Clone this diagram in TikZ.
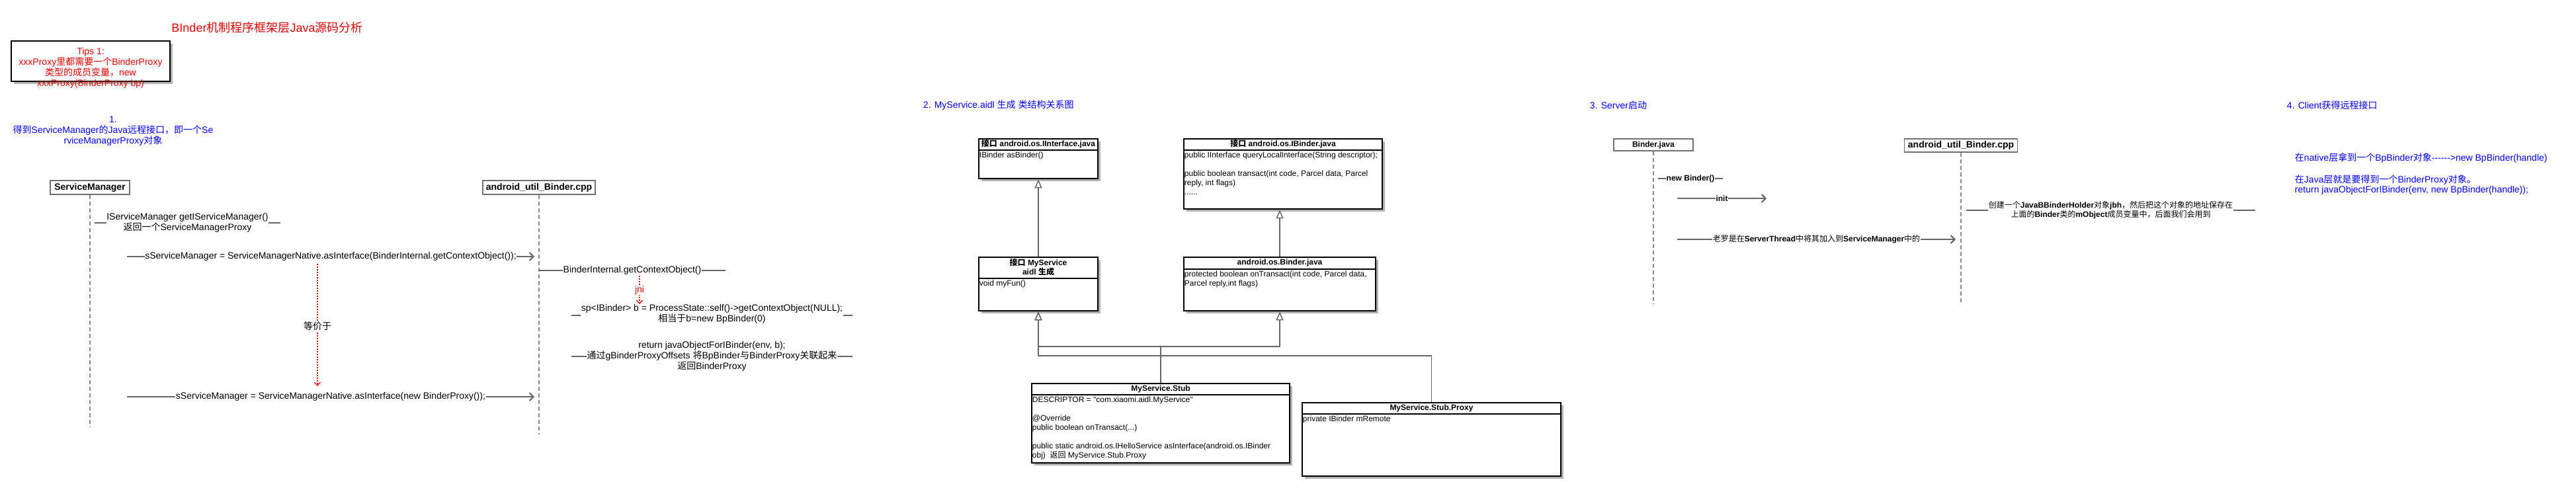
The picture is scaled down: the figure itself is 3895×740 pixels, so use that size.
\documentclass[tikz,border=0pt]{standalone}
\usepackage{fontspec}
\setmainfont{Liberation Sans}[Ligatures=TeXOff]
\newfontfamily\zhfont{Noto Sans CJK SC}
\usetikzlibrary{arrows.meta,shadows}

% switch to the CJK family for Han characters and full-width punctuation
\XeTeXinterchartokenstate=1
\newXeTeXintercharclass\zhclass
\newcount\zhcode
\zhcode="3000
\loop
  \XeTeXcharclass\zhcode=\zhclass
  \ifnum\zhcode<"9FFF \advance\zhcode by 1
\repeat
\zhcode="FF00
\loop
  \XeTeXcharclass\zhcode=\zhclass
  \ifnum\zhcode<"FFEF \advance\zhcode by 1
\repeat
\XeTeXinterchartoks 0 \zhclass = {\begingroup\zhfont}
\XeTeXinterchartoks 4095 \zhclass = {\begingroup\zhfont}
\XeTeXinterchartoks \zhclass 0 = {\endgroup}
\XeTeXinterchartoks \zhclass 4095 = {\endgroup}

\tikzset{
  txt/.style={inner sep=0.75pt, align=center, font=\fontsize{14}{16}\selectfont},
  smalltxt/.style={inner sep=0.75pt, align=center, font=\fontsize{12}{14}\selectfont},
  title/.style={inner sep=0.75pt, font=\fontsize{18}{20}\selectfont, color={rgb, 255:red, 224; green, 0; blue, 0}},
  note/.style={txt, color={rgb, 255:red, 0; green, 0; blue, 255}},
  tipsbox/.style={draw=black, line width=2.5pt, fill=white, general shadow={fill={rgb, 255:red, 178; green, 178; blue, 178}, shadow xshift=4pt, shadow yshift=-4pt}},
  tipstext/.style={txt, color={rgb, 255:red, 224; green, 0; blue, 0}},
  headbox/.style={draw={rgb, 255:red, 112; green, 112; blue, 112}, line width=1.5pt, fill=white, inner sep=2pt, font=\bfseries\fontsize{14}{16}\selectfont},
  lifeline/.style={draw={rgb, 255:red, 136; green, 136; blue, 136}, line width=1.4pt, dash pattern=on 6pt off 4pt},
  msg/.style={draw={rgb, 255:red, 102; green, 102; blue, 102}, line width=2pt},
  call/.style={msg, -{Straight Barb[length=6pt, width=12pt]}},
  lbl/.style={txt, fill=white},
  smalllbl/.style={smalltxt, fill=white},
  redlink/.style={draw={rgb, 255:red, 224; green, 0; blue, 0}, line width=1.2pt, dash pattern=on 2pt off 2pt, -{Straight Barb[length=5pt, width=9pt, line width=1.2pt]}},
  classbox/.style={draw=black, line width=2.5pt, fill=white, inner sep=0pt, general shadow={fill={rgb, 255:red, 178; green, 178; blue, 178}, shadow xshift=4pt, shadow yshift=-4pt}},
  classhead/.style={inner sep=0pt, align=center, font=\bfseries\fontsize{12}{14}\selectfont},
  classbody/.style={inner sep=2pt, align=left, font=\fontsize{12}{14}\selectfont},
  classrule/.style={draw=black, line width=2.5pt},
  inherit/.style={draw={rgb, 255:red, 102; green, 102; blue, 102}, line width=1.5pt, -{Triangle[length=13pt, width=11pt, fill=white, line width=1.5pt]}}
}

\begin{document}
\begin{tikzpicture}[x=1pt,y=1pt,yscale=-1,xscale=1]
\useasboundingbox (0,0) rectangle (3895,740);

% Text Node
\draw (404,42) node [title] (title) {BInder机制程序框架层Java源码分析};
%Shape: Rectangle
\draw (137,92.5) node [tipsbox, minimum width=240pt, minimum height=61pt] (tips) {};
% Text Node
\draw (137,102.5) node [tipstext] (tipsText) {Tips 1:\\xxxProxy里都需要一个BinderProxy\\类型的成员变量，new\\xxxProxy(BinderProxy bp)};
% Text Node
\draw (171,198) node [note] (step1) {1.\\得到ServiceManager的Java远程接口，即一个Se\\rviceManagerProxy对象};

%Shape: Lifelines
\draw (136,283.5) node [headbox, minimum width=120pt, minimum height=21pt] (smHead) {ServiceManager};
\draw (815,283.5) node [headbox, minimum width=170pt, minimum height=21pt] (jniHead) {android\_util\_Binder.cpp};
\coordinate (smEnd) at (136,645);
\coordinate (jniEnd) at (815,657);
\draw [lifeline] (smHead) -- (smEnd);
\draw [lifeline] (jniHead) -- (jniEnd);

%Straight Lines
\coordinate (getSmA) at (143,337);
\coordinate (getSmB) at (424,337);
\draw [msg] (getSmA) -- (getSmB) node [lbl, midway] (getSm) {IServiceManager getIServiceManager()\\返回一个ServiceManagerProxy};
%Straight Lines
\coordinate (asIfA) at (192,388);
\coordinate (asIfB) at (808,388);
\draw [call] (asIfA) -- (asIfB) node [lbl, midway] (asIf) {sServiceManager = ServiceManagerNative.asInterface(BinderInternal.getContextObject());};
%Straight Lines
\coordinate (equivA) at (480,399);
\coordinate (equivB) at (480,584);
\draw [redlink] (equivA) -- (equivB) node [lbl, midway, yshift=-2pt] (equiv) {等价于};
%Straight Lines
\coordinate (newProxyA) at (192,600);
\coordinate (newProxyB) at (808,600);
\draw [call] (newProxyA) -- (newProxyB) node [lbl, midway] (newProxy) {sServiceManager = ServiceManagerNative.asInterface(new BinderProxy());};
%Straight Lines
\coordinate (ctxA) at (815,409);
\coordinate (ctxB) at (1097,409);
\draw [msg] (ctxA) -- (ctxB) node [lbl, midway] (ctx) {BinderInternal.getContextObject()};
%Straight Lines
\coordinate (jniA) at (967,417);
\coordinate (jniB) at (967,460);
\draw [redlink] (jniA) -- (jniB) node [lbl, midway, text={rgb, 255:red, 224; green, 0; blue, 0}] (jni) {jni};
%Straight Lines
\coordinate (spA) at (864,477);
\coordinate (spB) at (1289,477);
\draw [msg] (spA) -- (spB) node [lbl, midway, yshift=2pt] (sp) {sp<IBinder> b = ProcessState::self()->getContextObject(NULL);\\相当于b=new BpBinder(0)};
%Straight Lines
\coordinate (retA) at (864,539);
\coordinate (retB) at (1289,539);
\draw [msg] (retA) -- (retB) node [lbl, midway] (ret) {return javaObjectForIBinder(env, b);\\通过gBinderProxyOffsets 将BpBinder与BinderProxy关联起来\\返回BinderProxy};

% Text Node
\draw (1395,159) node [note, anchor=west] (step2) {2. MyService.aidl 生成 类结构关系图};

%Shape: Class IInterface
\draw (1570,240) node [classbox, minimum width=180pt, minimum height=60pt] (iface) {};
\draw (iface.north) node [classhead, anchor=north, minimum height=18pt] (ifaceHead) {接口 android.os.IInterface.java};
\draw [classrule] (ifaceHead.south -| iface.west) -- (ifaceHead.south -| iface.east);
\draw (ifaceHead.south -| iface.west) node [classbody, anchor=north west] (ifaceBody) {IBinder asBinder()};
%Shape: Class IBinder
\draw (1940,263) node [classbox, minimum width=300pt, minimum height=106pt] (ibinder) {};
\draw (ibinder.north) node [classhead, anchor=north, minimum height=18pt] (ibinderHead) {接口 android.os.IBinder.java};
\draw [classrule] (ibinderHead.south -| ibinder.west) -- (ibinderHead.south -| ibinder.east);
\draw (ibinderHead.south -| ibinder.west) node [classbody, anchor=north west] (ibinderBody) {public IInterface queryLocalInterface(String descriptor);\\[14pt]public boolean transact(int code, Parcel data, Parcel\\reply, int flags)\\......};
%Shape: Class MyService
\draw (1570,429.5) node [classbox, minimum width=180pt, minimum height=81pt] (mysvc) {};
\draw (mysvc.north) node [classhead, anchor=north, minimum height=33pt] (mysvcHead) {接口 MyService\\aidl 生成};
\draw [classrule] (mysvcHead.south -| mysvc.west) -- (mysvcHead.south -| mysvc.east);
\draw (mysvcHead.south -| mysvc.west) node [classbody, anchor=north west] (mysvcBody) {void myFun()};
%Shape: Class Binder
\draw (1935,429.5) node [classbox, minimum width=290pt, minimum height=81pt] (binder) {};
\draw (binder.north) node [classhead, anchor=north, minimum height=19pt] (binderHead) {android.os.Binder.java};
\draw [classrule] (binderHead.south -| binder.west) -- (binderHead.south -| binder.east);
\draw (binderHead.south -| binder.west) node [classbody, anchor=north west] (binderBody) {protected boolean onTransact(int code, Parcel data,\\Parcel reply,int flags)};
%Shape: Class Stub
\draw (1755,640) node [classbox, minimum width=390pt, minimum height=120pt] (stub) {};
\draw (stub.north) node [classhead, anchor=north, minimum height=18pt] (stubHead) {MyService.Stub};
\draw [classrule] (stubHead.south -| stub.west) -- (stubHead.south -| stub.east);
\draw (stubHead.south -| stub.west) node [classbody, anchor=north west] (stubBody) {DESCRIPTOR = "com.xiaomi.aidl.MyService"\\[14pt]@Override\\public boolean onTransact(...)\\[14pt]public static android.os.IHelloService asInterface(android.os.IBinder\\obj)\ \ 返回 MyService.Stub.Proxy};
%Shape: Class Proxy
\draw (2164.5,664.5) node [classbox, minimum width=391pt, minimum height=111pt] (proxy) {};
\draw (proxy.north) node [classhead, anchor=north, minimum height=18pt] (proxyHead) {MyService.Stub.Proxy};
\draw [classrule] (proxyHead.south -| proxy.west) -- (proxyHead.south -| proxy.east);
\draw (proxyHead.south -| proxy.west) node [classbody, anchor=north west] (proxyBody) {private IBinder mRemote};

%Straight Lines: generalization
\draw [inherit] (mysvc) -- (iface);
\draw [inherit] (binder.north) -- (binder.north |- ibinder.south);
\draw [inherit] (stub.north) -- ++(0,-55) -| (mysvc.south);
\draw [inherit] (stub.north) -- ++(0,-55) -| (binder.south);
\draw [inherit] (proxy.north) -- ++(0,-70) -| (mysvc.south);

% Text Node
\draw (2403,159) node [note, anchor=west] (step3) {3. Server启动};
%Shape: Lifelines
\draw (2500,219) node [headbox, minimum width=120pt, minimum height=18pt, font=\bfseries\fontsize{12}{14}\selectfont] (javaHead) {Binder.java};
\draw (2965,220) node [headbox, minimum width=171pt, minimum height=20pt] (cppHead) {android\_util\_Binder.cpp};
\coordinate (javaEnd) at (2500,460);
\coordinate (cppEnd) at (2965,460);
\draw [lifeline] (javaHead) -- (javaEnd);
\draw [lifeline] (cppHead) -- (cppEnd);
%Straight Lines
\coordinate (newBinderA) at (2507,270);
\coordinate (newBinderB) at (2605,270);
\draw [msg] (newBinderA) -- (newBinderB) node [smalllbl, midway, font=\bfseries\fontsize{12}{14}\selectfont] (newBinder) {new Binder()};
%Straight Lines
\coordinate (initA) at (2536,300);
\coordinate (initB) at (2671,300);
\draw [call] (initA) -- (initB) node [smalllbl, midway, font=\bfseries\fontsize{12}{14}\selectfont] (init) {init};
%Straight Lines
\coordinate (addSvcA) at (2536,362);
\coordinate (addSvcB) at (2957,362);
\draw [call] (addSvcA) -- (addSvcB) node [smalllbl, midway] (addSvc) {老罗是在\textbf{ServerThread}中将其加入到\textbf{ServiceManager}中的};
%Straight Lines
\coordinate (holderA) at (2973,318);
\coordinate (holderB) at (3410,318);
\draw [msg] (holderA) -- (holderB) node [smalllbl, midway] (holder) {创建一个\textbf{JavaBBinderHolder}对象\textbf{jbh}，然后把这个对象的地址保存在\\上面的\textbf{Binder}类的\textbf{mObject}成员变量中，后面我们会用到};

% Text Node
\draw (3457,159) node [note, anchor=west] (step4) {4. Client获得远程接口};
% Text Node
\draw (3469,239) node [note, anchor=west] (nativeSide) {在native层拿到一个BpBinder对象------>new BpBinder(handle)};
% Text Node
\draw (3469,279.5) node [note, anchor=west, align=left, font=\fontsize{14}{15}\selectfont] (javaSide) {在Java层就是要得到一个BinderProxy对象。\\return javaObjectForIBinder(env, new BpBinder(handle));};
\end{tikzpicture}
\end{document}
